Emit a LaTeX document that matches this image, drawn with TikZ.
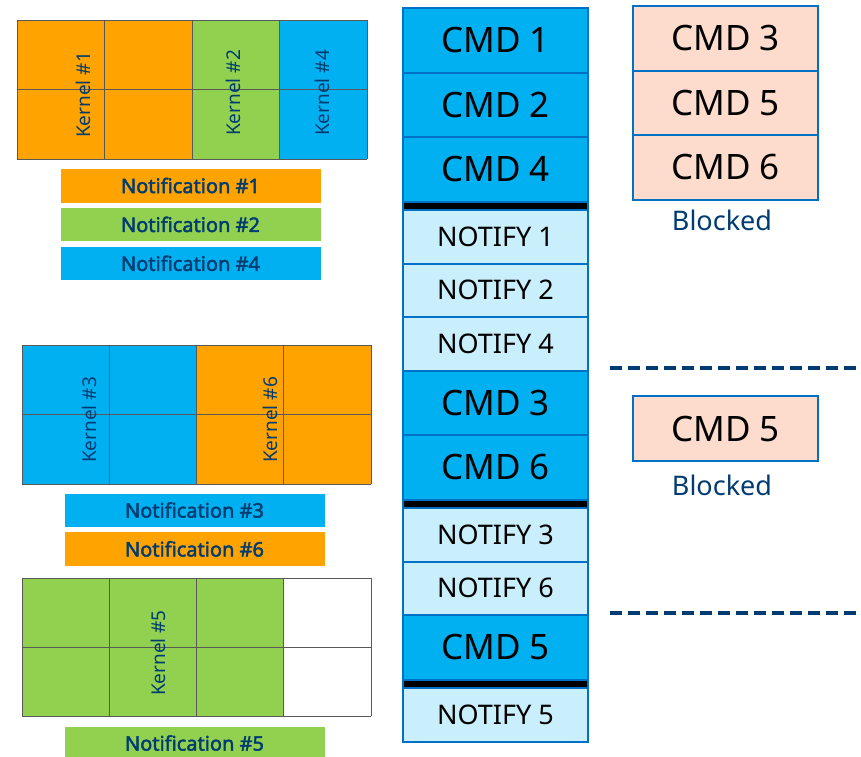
\documentclass[tikz,border=0pt]{standalone}
\usepackage{fontspec}
\setmainfont{Noto Sans}
\newfontfamily\boldnote{Noto Sans}[FakeBold=2.2]
\usetikzlibrary{positioning}
\definecolor{korange}{HTML}{FFA300}
\definecolor{kgreen}{HTML}{92D050}
\definecolor{kblue}{HTML}{00B0F0}
\definecolor{klight}{HTML}{C9EEFC}
\definecolor{kpink}{HTML}{FDDCCD}
\definecolor{kborder}{HTML}{0071C5}
\definecolor{ktext}{HTML}{003C71}

\begin{document}
\begin{tikzpicture}[x=1pt, y=-1pt, node distance=0pt]
\tikzset{
	    cmdbox/.style={rectangle, draw=kborder, line width=2pt, fill=kblue, minimum width=185pt, minimum height=64.5pt, inner sep=0pt, outer sep=0pt, font=\fontsize{35}{40}\selectfont},
	    notifybox/.style={cmdbox, fill=klight, minimum height=53.5pt, font=\fontsize{27}{32}\selectfont},
	    barrier/.style={cmdbox, fill=black, minimum height=8.5pt},
	    blockedbox/.style={cmdbox, fill=kpink},
	    notebar/.style={rectangle, draw=white, thin, minimum width=261pt, minimum height=34.5pt, inner sep=0pt, text=ktext, font=\boldnote\fontsize{20}{22}\selectfont},
	    kernlabel/.style={rotate=90, text=ktext, inner sep=0pt, font=\fontsize{19}{20}\selectfont},
	    caption/.style={text=ktext, font=\fontsize{27}{30}\selectfont},
	    cellline/.style={draw=black!65, line width=0.8pt},
	    sepline/.style={draw=ktext, line width=3.5pt, dash pattern=on 12pt off 6pt}
	}
	\useasboundingbox (0,0) rectangle (861,756);

	% kernel grids
	\foreach \c/\col in {0/korange,1/korange,2/kgreen,3/kblue}
	    \fill[\col] (17+87.5*\c,20) rectangle ++(87.5,139);
	\foreach \c in {0,...,4} \draw[cellline] (17+87.5*\c,20) -- ++(0,139);
	\foreach \r in {0,1,2} \draw[cellline] (17,20+69.5*\r) -- ++(350,0);

	\foreach \c/\col in {0/kblue,1/kblue,2/korange,3/korange}
	    \fill[\col] (22+87.25*\c,345) rectangle ++(87.25,139);
	\foreach \c in {0,...,4} \draw[cellline] (22+87.25*\c,345) -- ++(0,139);
	\foreach \r in {0,1,2} \draw[cellline] (22,345+69.5*\r) -- ++(349,0);

	\foreach \c/\col in {0/kgreen,1/kgreen,2/kgreen,3/white}
	    \fill[\col] (22+87.25*\c,578) rectangle ++(87.25,138);
	\foreach \c in {0,...,4} \draw[cellline] (22+87.25*\c,578) -- ++(0,138);
	\foreach \r in {0,1,2} \draw[cellline] (22,578+69*\r) -- ++(349,0);

	\node[kernlabel] (k1) at (83,95) {Kernel \#1};
	\node[kernlabel] (k2) at (233,93) {Kernel \#2};
	\node[kernlabel] (k4) at (322,93) {Kernel \#4};
	\node[kernlabel] (k3) at (89,420) {Kernel \#3};
	\node[kernlabel] (k6) at (270,420) {Kernel \#6};
	\node[kernlabel] (k5) at (158,653) {Kernel \#5};

	% notifications
	\node[notebar, fill=korange] (nb1) at (190.5,185.5) {Notification \#1};
	\node[notebar, fill=kgreen, below=4pt of nb1] (nb2) {Notification \#2};
	\node[notebar, fill=kblue, below=4pt of nb2] (nb4) {Notification \#4};

	\node[notebar, fill=kblue] (nb3) at (194.5,510) {Notification \#3};
	\node[notebar, fill=korange, below=4pt of nb3] (nb6) {Notification \#6};

	\node[notebar, fill=kgreen] (nb5) at (194.5,743) {Notification \#5};

	% command queue
	\node[cmdbox, anchor=north] (cmd1) at (495.5,8) {CMD 1};
	\node[cmdbox, below=of cmd1] (cmd2) {CMD 2};
	\node[cmdbox, below=of cmd2] (cmd4) {CMD 4};
	\node[barrier, below=of cmd4] (bar1) {};
	\node[notifybox, below=of bar1] (ntf1) {NOTIFY 1};
	\node[notifybox, below=of ntf1] (ntf2) {NOTIFY 2};
	\node[notifybox, below=of ntf2] (ntf4) {NOTIFY 4};
	\node[cmdbox, below=of ntf4] (cmd3) {CMD 3};
	\node[cmdbox, below=of cmd3] (cmd6) {CMD 6};
	\node[barrier, below=of cmd6] (bar2) {};
	\node[notifybox, below=of bar2] (ntf3) {NOTIFY 3};
	\node[notifybox, below=of ntf3] (ntf6) {NOTIFY 6};
	\node[cmdbox, below=of ntf6] (cmd5) {CMD 5};
	\node[barrier, below=of cmd5] (bar3) {};
	\node[notifybox, below=of bar3] (ntf5) {NOTIFY 5};

	% blocked commands
	\node[blockedbox, anchor=north] (blk3) at (725.5,6) {CMD 3};
	\node[blockedbox, below=of blk3] (blk5) {CMD 5};
	\node[blockedbox, below=of blk5] (blk6) {CMD 6};
	\node[caption] (cap1) at (722,220) {Blocked};

	\node[blockedbox] (blk5b) at (725.5,428.5) {CMD 5};
	\node[caption] (cap2) at (722,485) {Blocked};

	% phase separators
	\coordinate (sep1a) at (610,368);
	\coordinate (sep1b) at (861,368);
	\coordinate (sep2a) at (610,613);
	\coordinate (sep2b) at (861,613);
	\draw[sepline] (sep1a) -- (sep1b);
	\draw[sepline] (sep2a) -- (sep2b);

\end{tikzpicture}
\end{document}
